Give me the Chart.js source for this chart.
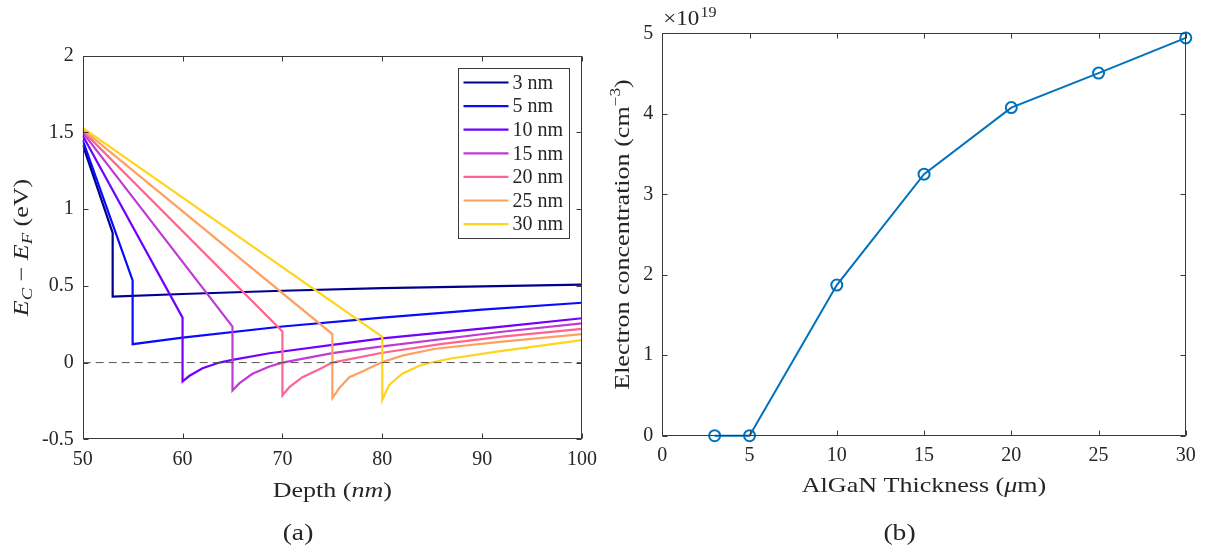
<!DOCTYPE html>
<html>
<head>
<meta charset="utf-8">
<script src="https://cdn.jsdelivr.net/npm/chart.js@4.4.1/dist/chart.umd.min.js"></script>
<style>
  html, body { margin: 0; padding: 0; background: #fff; }
  #wrap { position: relative; width: 1211px; height: 552px; }
  canvas { position: absolute; top: 0; }
  #bandChart { left: 0; }
  #densChart { left: 605px; }
</style>
</head>
<body>
<div id="wrap">
  <canvas id="bandChart" width="605" height="552"></canvas>
  <canvas id="densChart" width="606" height="552"></canvas>
</div>
<script>
// ---- (a) band edge E_C - E_F versus depth, one curve per AlGaN thickness ----
const thicknessLabels = ['3 nm', '5 nm', '10 nm', '15 nm', '20 nm', '25 nm', '30 nm'];
const curveColors = ['#00008f', '#0a0aff', '#7000ff', '#c03ad8', '#ff6490', '#ffa060', '#ffd41a'];

const depth3 = [50, 53, 53, 60, 70, 80, 90, 100];
const band3 = [1.42, 0.845, 0.43, 0.447, 0.468, 0.485, 0.497, 0.508];
const depth5 = [50, 55, 55, 60, 70, 80, 90, 100];
const band5 = [1.45, 0.535, 0.12, 0.163, 0.235, 0.293, 0.345, 0.39];
const depth10 = [50, 60, 60, 60.7, 62, 63.7, 65, 68.7, 75, 80, 92, 100];
const band10 = [1.48, 0.293, -0.123, -0.086, -0.037, 0, 0.018, 0.061, 0.115, 0.158, 0.234, 0.289];
const depth15 = [50, 65, 65, 65.7, 67, 68.7, 70, 75, 80, 92, 100];
const band15 = [1.50, 0.234, -0.182, -0.134, -0.073, -0.026, 0, 0.062, 0.106, 0.201, 0.256];
const depth20 = [50, 70, 70, 70.7, 72, 73.7, 75, 80, 86, 92, 100];
const band20 = [1.51, 0.203, -0.214, -0.16, -0.095, -0.043, 0, 0.064, 0.122, 0.169, 0.22];
const depth25 = [50, 75, 75, 75.7, 76.7, 78, 80, 82, 85.3, 92, 100];
const band25 = [1.52, 0.186, -0.231, -0.166, -0.095, -0.058, 0.003, 0.045, 0.09, 0.136, 0.185];
const depth30 = [50, 80, 80, 80.7, 82, 83.7, 85, 87, 92, 100];
const band30 = [1.53, 0.168, -0.242, -0.145, -0.073, -0.021, 0.002, 0.028, 0.076, 0.146];

const depthSets = [depth3, depth5, depth10, depth15, depth20, depth25, depth30];
const bandSets = [band3, band5, band10, band15, band20, band25, band30];
const fermiLevel = [0, 0];
const depthRange = [50, 100];

// ---- (b) electron concentration (x 10^19 cm^-3) versus AlGaN thickness ----
const algaThickness = [3, 5, 10, 15, 20, 25, 30];
const electronConc = [0, 0, 1.872, 3.25, 4.077, 4.506, 4.943];

const SERIF = "'Liberation Serif', 'Times New Roman', serif";
const TEXT_COLOR = '#262626';
const AXIS_COLOR = '#3a3a3a';
const tickFont = { family: SERIF, size: 20 };
const TITLE_STRETCH = 1.24;

function zip(xs, ys) {
  return xs.map((x, i) => ({ x: x, y: ys[i] }));
}

// draws a run of text pieces (italic / sub / superscript) centred on (cx, cy),
// slightly widened so the serif face is closer to the wide LaTeX look
function richText(ctx, parts, cx, cy, angle, stretch) {
  const sx = stretch || TITLE_STRETCH;
  ctx.save();
  ctx.translate(cx, cy);
  ctx.rotate(angle || 0);
  ctx.scale(sx, 1);
  ctx.fillStyle = TEXT_COLOR;
  ctx.textBaseline = 'alphabetic';
  let total = 0;
  parts.forEach(p => {
    ctx.font = (p.italic ? 'italic ' : '') + (p.size || 21) + 'px ' + SERIF;
    p.w = ctx.measureText(p.t).width;
    total += p.w;
  });
  let xp = -total / 2;
  parts.forEach(p => {
    ctx.font = (p.italic ? 'italic ' : '') + (p.size || 21) + 'px ' + SERIF;
    ctx.fillText(p.t, xp, p.dy || 0);
    xp += p.w;
  });
  ctx.restore();
}

// MATLAB-style box with inward ticks on all four sides
function drawFrame(chart) {
  const { ctx, chartArea: a, scales } = chart;
  const L = Math.round(a.left) + 0.5, R = Math.round(a.right) - 0.5;
  const T = Math.round(a.top) + 0.5, B = Math.round(a.bottom) - 0.5;
  ctx.save();
  ctx.strokeStyle = AXIS_COLOR;
  ctx.lineWidth = 1;
  ctx.beginPath();
  scales.x.ticks.forEach(t => {
    const px = Math.round(scales.x.getPixelForValue(t.value)) + 0.5;
    ctx.moveTo(px, B); ctx.lineTo(px, B - 5);
    ctx.moveTo(px, T); ctx.lineTo(px, T + 5);
  });
  scales.y.ticks.forEach(t => {
    const py = Math.round(scales.y.getPixelForValue(t.value)) + 0.5;
    ctx.moveTo(L, py); ctx.lineTo(L + 5, py);
    ctx.moveTo(R, py); ctx.lineTo(R - 5, py);
  });
  ctx.stroke();
  ctx.strokeRect(L, T, R - L, B - T);
  ctx.restore();
}

function fixedAxes(xOpts, yOpts, xHeight, yWidth) {
  return {
    x: Object.assign({
      type: 'linear',
      grid: { display: false, drawTicks: false },
      border: { display: false },
      afterFit: s => { s.height = xHeight; }
    }, xOpts),
    y: Object.assign({
      type: 'linear',
      grid: { display: false, drawTicks: false },
      border: { display: false },
      afterFit: s => { s.width = yWidth; }
    }, yOpts)
  };
}

const plainNumber = v => String(v);

// ---------------- chart (a) ----------------
const bandDatasets = depthSets.map((d, i) => ({
  label: thicknessLabels[i],
  data: zip(d, bandSets[i]),
  borderColor: curveColors[i],
  borderWidth: 2.2,
  pointRadius: 0,
  tension: 0,
  order: 20 - i
}));
bandDatasets.push({
  label: 'E_F',
  data: zip(depthRange, fermiLevel),
  borderColor: '#555555',
  borderWidth: 1,
  borderDash: [8, 5],
  pointRadius: 0,
  order: 0
});

const bandLegend = {
  id: 'bandLegend',
  afterDraw(chart) {
    const { ctx, chartArea: a } = chart;
    const right = Math.round(a.right - 13) + 0.5, top = Math.round(a.top + 12.6) + 0.5;
    const left = right - 111, rowH = 23.6;
    ctx.save();
    ctx.fillStyle = '#fff';
    ctx.fillRect(left, top, right - left, 170);
    ctx.strokeStyle = AXIS_COLOR;
    ctx.lineWidth = 1;
    ctx.strokeRect(left, top, right - left, 170);
    ctx.font = '20px ' + SERIF;
    ctx.textBaseline = 'middle';
    thicknessLabels.forEach((lab, i) => {
      const y = top + 14 + i * rowH;
      ctx.strokeStyle = curveColors[i];
      ctx.lineWidth = 2.2;
      ctx.beginPath();
      ctx.moveTo(left + 5, y); ctx.lineTo(left + 50, y);
      ctx.stroke();
      ctx.fillStyle = TEXT_COLOR;
      ctx.fillText(lab, left + 54, y + 1);
    });
    ctx.restore();
  }
};

const bandText = {
  id: 'bandText',
  afterDraw(chart) {
    const { ctx, chartArea: a } = chart;
    drawFrame(chart);
    const cx = (a.left + a.right) / 2;
    richText(ctx, [{ t: 'Depth (' }, { t: 'nm', italic: true }, { t: ')' }], cx, 497);
    richText(ctx, [
      { t: 'E', italic: true }, { t: 'C', italic: true, size: 15, dy: 4 },
      { t: ' \u2212 ' },
      { t: 'E', italic: true }, { t: 'F', italic: true, size: 15, dy: 4 },
      { t: ' (eV)' }
    ], 28, (a.top + a.bottom) / 2, -Math.PI / 2);
    richText(ctx, [{ t: '(a)', size: 23 }], 298, 540, 0, 1.2);
  }
};

new Chart(document.getElementById('bandChart'), {
  type: 'line',
  data: { datasets: bandDatasets },
  options: {
    responsive: false,
    animation: false,
    events: [],
    layout: { padding: { top: 55.7, right: 22.7, left: 0, bottom: 0 } },
    plugins: { legend: { display: false }, tooltip: { enabled: false } },
    scales: fixedAxes(
      { min: 50, max: 100, ticks: { font: tickFont, color: TEXT_COLOR, padding: 8, stepSize: 10, maxRotation: 0 } },
      { min: -0.5, max: 2, ticks: { font: tickFont, color: TEXT_COLOR, padding: 9, stepSize: 0.5, callback: plainNumber } },
      552 - 439.3, 82.7
    )
  },
  plugins: [bandText, bandLegend]
});

// ---------------- chart (b) ----------------
const densText = {
  id: 'densText',
  afterDraw(chart) {
    const { ctx, chartArea: a } = chart;
    drawFrame(chart);
    const cx = (a.left + a.right) / 2;
    richText(ctx, [{ t: 'AlGaN Thickness (' }, { t: '\u03bc', italic: true }, { t: 'm)' }], cx, 492);
    richText(ctx, [
      { t: 'Electron concentration (cm' }, { t: '\u22123', size: 14, dy: -9 }, { t: ')' }
    ], 24, (a.top + a.bottom) / 2, -Math.PI / 2);
    // exponent label above the y axis
    ctx.save();
    ctx.translate(a.left + 1, 25);
    ctx.scale(1.15, 1);
    ctx.fillStyle = TEXT_COLOR;
    ctx.textBaseline = 'alphabetic';
    ctx.font = '20px ' + SERIF;
    ctx.fillText('\u00d710', 0, 0);
    const w = ctx.measureText('\u00d710').width;
    ctx.font = '14px ' + SERIF;
    ctx.fillText('19', w + 1, -8);
    ctx.restore();
    richText(ctx, [{ t: '(b)', size: 23 }], 294.5, 540, 0, 1.2);
  }
};

new Chart(document.getElementById('densChart'), {
  type: 'line',
  data: {
    datasets: [{
      label: 'n',
      data: zip(algaThickness, electronConc),
      borderColor: '#0072bd',
      borderWidth: 2,
      pointStyle: 'circle',
      pointRadius: 5.5,
      pointBorderWidth: 2,
      pointBorderColor: '#0072bd',
      pointBackgroundColor: 'rgba(0,0,0,0)',
      tension: 0,
      clip: false
    }]
  },
  options: {
    responsive: false,
    animation: false,
    events: [],
    layout: { padding: { top: 33.3, right: 25.2, left: 0, bottom: 0 } },
    plugins: { legend: { display: false }, tooltip: { enabled: false } },
    scales: fixedAxes(
      { min: 0, max: 30, ticks: { font: tickFont, color: TEXT_COLOR, padding: 8, stepSize: 5, maxRotation: 0 } },
      { min: 0, max: 5, ticks: { font: tickFont, color: TEXT_COLOR, padding: 9, stepSize: 1, callback: plainNumber } },
      552 - 435.7, 57.3
    )
  },
  plugins: [densText]
});
</script>
</body>
</html>
